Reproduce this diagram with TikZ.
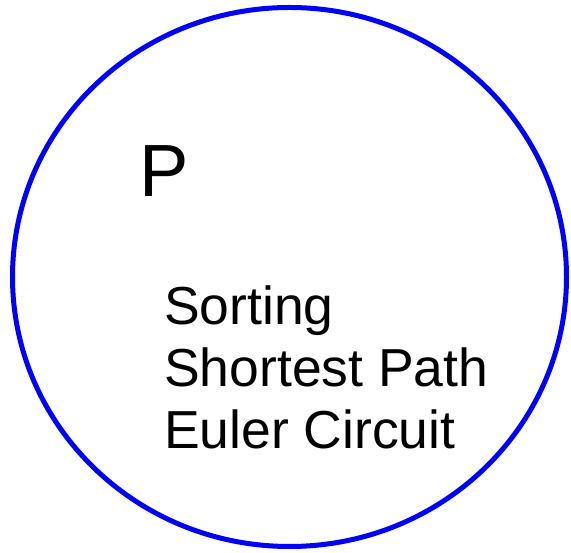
\documentclass[tikz,border=0pt]{standalone}
\usepackage{fontspec}
\setmainfont{Liberation Sans}
\tikzset{setline/.style={draw=blue, line width=5pt},
         item/.style={anchor=base west, inner sep=0pt, font=\fontsize{53.5}{62}\selectfont}}
\begin{document}
\begin{tikzpicture}[x=1pt,y=1pt]
    \useasboundingbox (0,0) rectangle (571,553);
    \draw[setline] (289.5,276) ellipse [x radius=277, y radius=269.5];

    \node[anchor=base west, inner sep=0pt, font=\fontsize{74}{80}\selectfont] (cls) at (139,356) {P};

    \node[item] (sort) at (164,228) {Sorting};
    \node[item] (path) at (164,166) {Shortest Path};
    \node[item] (euler) at (164,104) {Euler Circuit};
\end{tikzpicture}
\end{document}
